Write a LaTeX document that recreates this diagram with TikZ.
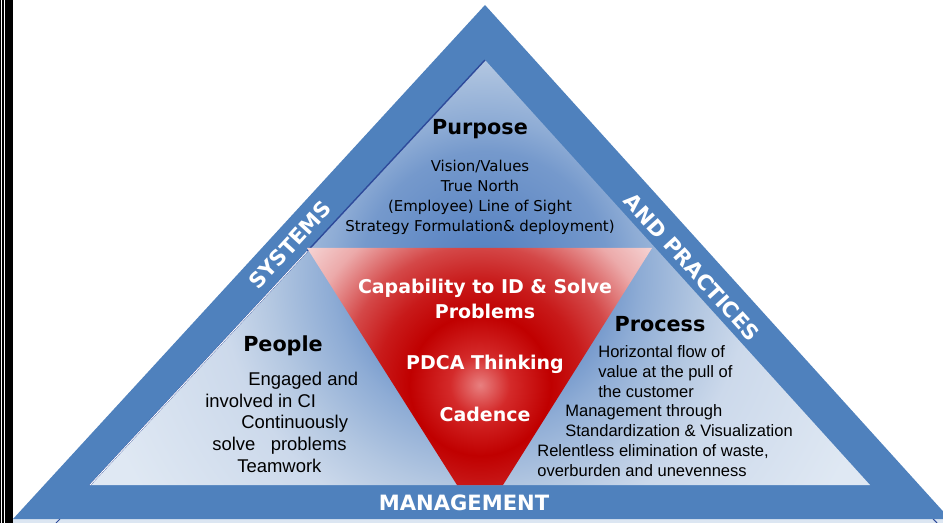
\documentclass[tikz,border=0pt]{standalone}
\usepackage{fontspec}
\setmainfont{Liberation Sans}
\newfontfamily\verdana{DejaVu Sans}
\usetikzlibrary{calc}

\definecolor{bandblue}{HTML}{4F81BD}
\definecolor{edgeblue}{HTML}{2E4A9A}
\definecolor{stripblue}{HTML}{DCE6F2}

\definecolor{haze0}{HTML}{4E7FC0}
\definecolor{haze1}{HTML}{5F88C4}
\definecolor{haze2}{HTML}{7599CC}
\definecolor{haze3}{HTML}{8EACD5}
\definecolor{haze4}{HTML}{B3C7E1}
\definecolor{haze5}{HTML}{CCD9EB}
\definecolor{haze6}{HTML}{DFE8F3}

\definecolor{glow0}{HTML}{E88080}
\definecolor{glow1}{HTML}{D42A2A}
\definecolor{glow2}{HTML}{C00000}
\definecolor{glow3}{HTML}{C81A1A}
\definecolor{glow4}{HTML}{D44848}
\definecolor{glow5}{HTML}{ECAAAA}
\definecolor{glow6}{HTML}{F6D8D8}

% radii in bp, used at their own size (1 unit of the picture = 0.567bp)
\pgfdeclareradialshading{innerhaze}{\pgfpointorigin}{%
  color(0bp)=(haze0); color(28bp)=(haze1); color(70bp)=(haze2);
  color(88bp)=(haze3); color(122bp)=(haze4); color(150bp)=(haze5);
  color(230bp)=(haze6); color(255bp)=(haze6)}
\pgfdeclareradialshading{redglow}{\pgfpointorigin}{%
  color(0bp)=(glow0); color(17bp)=(glow1); color(40bp)=(glow2);
  color(59bp)=(glow3); color(79bp)=(glow4); color(104bp)=(glow5);
  color(127bp)=(glow6); color(142bp)=(glow6)}

\begin{document}
\begin{tikzpicture}[
    x=0.02cm, y=-0.02cm,
    band label/.style={text=white, inner sep=0pt,
      font=\verdana\bfseries\fontsize{12}{14}\selectfont},
    heading/.style={anchor=base, inner sep=0pt,
      font=\verdana\bfseries\fontsize{11.8}{14}\selectfont},
    core/.style={text=white, align=center, inner sep=0pt, anchor=base,
      font=\verdana\bfseries\fontsize{10.8}{14.7}\selectfont},
    purpose items/.style={align=center, inner sep=0pt, anchor=base,
      font=\verdana\fontsize{8.5}{11.4}\selectfont},
    side items/.style={align=left, inner sep=0pt, anchor=base west},
]
    \path[use as bounding box] (0,0) rectangle (943,523);
    \clip (0,0) rectangle (943,523);

    \coordinate (out top)   at (485,5);
    \coordinate (out left)  at (13,519);
    \coordinate (out right) at (950,519);
    \coordinate (in top)    at (485,60);
    \coordinate (in left)   at (90,485);
    \coordinate (in right)  at (870,485);

    % outer band and the strip below it
    \fill[stripblue] (13,519) rectangle (943,523);
    \draw[edgeblue, line width=0.6pt] (56,523) -- (60,519);
    \draw[edgeblue, line width=0.6pt] (933,519) -- (937,523);
    \fill[bandblue] (out top) -- (out right) -- (out left) -- cycle;

    % inner triangle
    \begin{scope}
        \clip (in top) -- (in right) -- (in left) -- cycle;
        \node[inner sep=0pt] (inner glow) at (485,275) {\pgfuseshading{innerhaze}};
    \end{scope}
    \draw[edgeblue, line width=0.8pt] (in top) -- (in left);
    \draw[white, line width=0.5pt, xshift=-0.055cm] ($(in top)!0.45!(in left)$) -- (in left);

    % red core
    \begin{scope}
        \clip (307,248) -- (652,248) -- (503,485) -- (457,485) -- cycle;
        \node[inner sep=0pt] (core glow) at (480,385) {\pgfuseshading{redglow}};
    \end{scope}

    % black rule on the left
    \fill[black] (0,0) rectangle (12.6,523);
    \fill[white] (1.2,0) rectangle (2.3,523);
    \fill[white] (3.5,0) rectangle (4.8,523);

    \node[band label, rotate=47.4]  (systems)    at (290,245) {SYSTEMS};
    \node[band label, rotate=-47.8] (practices)  at (692,267) {AND PRACTICES};
    \node[band label]               (management) at (464,503) {MANAGEMENT};

    \node[heading] (purpose) at (480,135) {Purpose};
    \node[purpose items] (purpose list) at (480,232)
        {Vision/Values\\True North\\(Employee) Line of Sight\\Strategy Formulation\& deployment)};

    \node[core] (capability) at (485,319) {Capability to ID \& Solve\\Problems};
    \node[core] (pdca)       at (485,370) {PDCA Thinking};
    \node[core] (cadence)    at (485,421) {Cadence};

    \node[heading] (people) at (283,352) {People};
    \node[side items, font=\fontsize{10.5}{12.3}\selectfont] (people list) at (205,472)
        {\hspace*{0.86cm}Engaged and\\involved in CI\\\hspace*{0.72cm}Continuously\\
         \hspace*{0.14cm}solve\ \ \ problems\\\hspace*{0.64cm}Teamwork};

    \node[heading] (process) at (660,332) {Process};
    \node[side items, font=\fontsize{9.4}{11.2}\selectfont] (process list) at (537,476)
        {\hspace*{1.22cm}Horizontal flow of\\\hspace*{1.22cm}value at the pull of\\
         \hspace*{1.22cm}the customer\\\hspace*{0.56cm}Management through\\
         \hspace*{0.56cm}Standardization \& Visualization\\
         Relentless elimination of waste,\\overburden and unevenness};
\end{tikzpicture}
\end{document}
